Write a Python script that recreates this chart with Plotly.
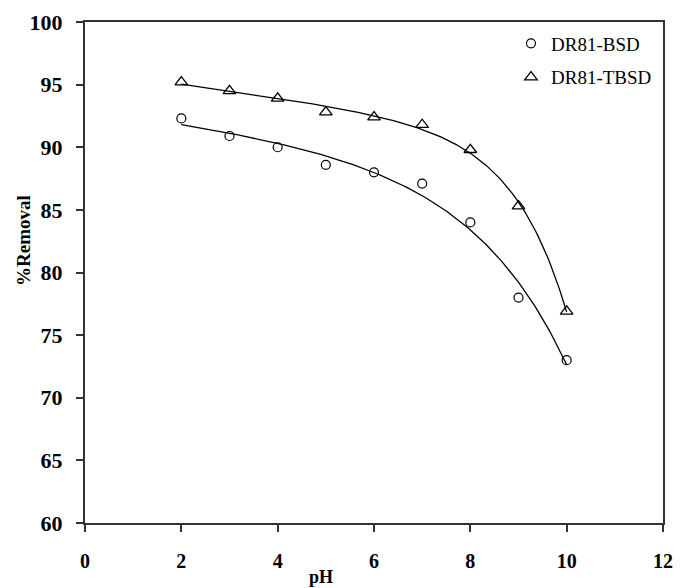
import numpy as np
import plotly.graph_objects as go

# pH values and measured % removal for the two sorbents
ph = [2, 3, 4, 5, 6, 7, 8, 9, 10]
removal_bsd = [92.3, 90.9, 90.0, 88.6, 88.0, 87.1, 84.0, 78.0, 73.0]
removal_tbsd = [95.2, 94.5, 93.9, 92.8, 92.4, 91.8, 89.8, 85.3, 76.9]

x_ticks = [0, 2, 4, 6, 8, 10, 12]
y_ticks = [60, 65, 70, 75, 80, 85, 90, 95, 100]


def trend(x, y, xs):
    """Least-squares fit of y = a + d*x - b*exp(c*x), returned on the grid xs."""
    x = np.asarray(x, float)
    y = np.asarray(y, float)
    best = None
    for c in np.linspace(0.2, 2.0, 361):
        A = np.column_stack([np.ones_like(x), x, -np.exp(c * x)])
        coef, *_ = np.linalg.lstsq(A, y, rcond=None)
        err = np.sum((A @ coef - y) ** 2)
        if best is None or err < best[0]:
            best = (err, c, coef)
    _, c, (a, d, b) = best
    return a + d * xs - b * np.exp(c * xs)


xs = np.linspace(min(ph), max(ph), 200)
fit_bsd = trend(ph, removal_bsd, xs)
fit_tbsd = trend(ph, removal_tbsd, xs)

serif = "Liberation Serif, Times New Roman, serif"

fig = go.Figure()
fig.add_trace(go.Scatter(x=xs, y=fit_bsd, mode="lines", line=dict(color="black", width=1.3),
                         showlegend=False, hoverinfo="skip"))
fig.add_trace(go.Scatter(x=xs, y=fit_tbsd, mode="lines", line=dict(color="black", width=1.3),
                         showlegend=False, hoverinfo="skip"))
fig.add_trace(go.Scatter(x=ph, y=removal_bsd, mode="markers", name="DR81-BSD", legendgroup="a",
                         marker=dict(symbol="circle-open", size=9, color="black",
                                     line=dict(width=1.2))))
fig.add_trace(go.Scatter(x=ph, y=removal_tbsd, mode="markers", name="DR81-TBSD", legendgroup="b",
                         marker=dict(symbol="triangle-up-open", size=11, color="black",
                                     line=dict(width=1.3))))

axis_common = dict(showline=True, linecolor="#333333", linewidth=2, mirror=True,
                   ticks="outside", ticklen=7, tickwidth=1.5, tickcolor="#333333",
                   showgrid=False, zeroline=False)

fig.update_layout(
    width=683, height=588,
    margin=dict(l=85, r=10, t=15, b=65),
    paper_bgcolor="white", plot_bgcolor="white",
    xaxis=dict(range=[0, 12], tickvals=x_ticks, ticklabelstandoff=12,
               tickfont=dict(family=serif, size=20, color="black", weight="bold"),
               **axis_common),
    yaxis=dict(range=[60, 100], tickvals=y_ticks, ticklabelstandoff=9,
               tickfont=dict(family=serif, size=22, color="black", weight="bold"),
               **axis_common),
    legend=dict(x=0.737, y=0.995, xanchor="left", yanchor="top", bgcolor="rgba(0,0,0,0)",
                font=dict(family=serif, size=19, color="black"), itemwidth=30,
                tracegroupgap=6),
    showlegend=True,
    annotations=[
        dict(text="<b>pH</b>", xref="paper", yref="paper", x=(325 - 85) / 588, y=-55 / 508,
             xanchor="center", yanchor="middle", showarrow=False,
             font=dict(family=serif, size=18, color="black")),
        dict(text="<b>%Removal</b>", xref="paper", yref="paper", x=-62 / 588, y=(523 - 237) / 508,
             xanchor="center", yanchor="middle", showarrow=False, textangle=-90,
             font=dict(family=serif, size=19, color="black")),
    ],
)

fig.write_html("out.html")
